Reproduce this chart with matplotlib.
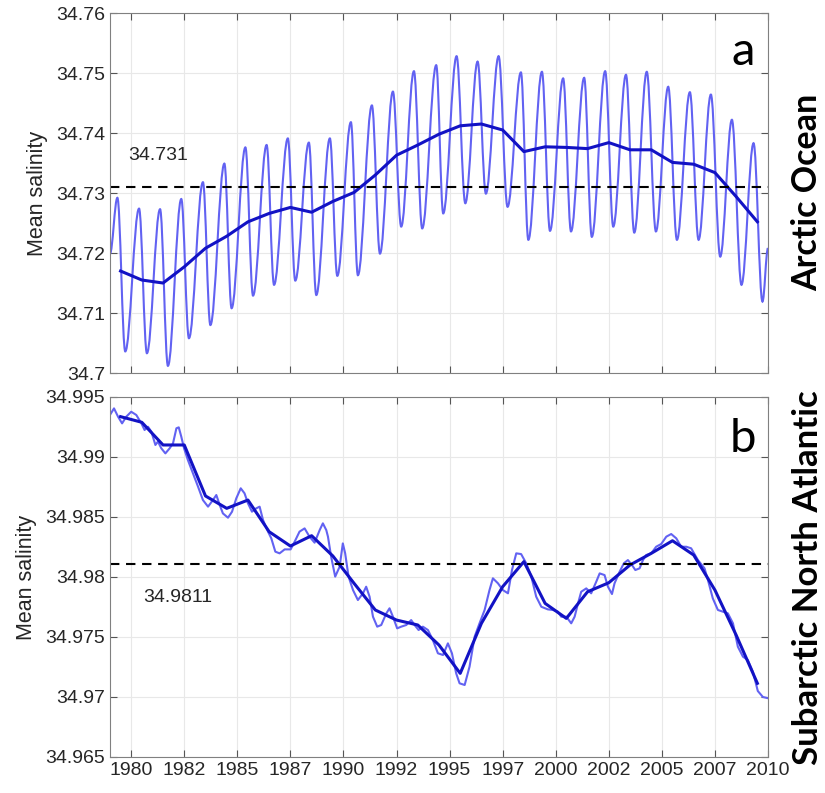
import matplotlib
matplotlib.use("Agg")
import matplotlib.pyplot as plt
import numpy as np
from matplotlib.path import Path
from matplotlib.patches import PathPatch
from matplotlib.ticker import FuncFormatter

plt.rcParams['font.family'] = ['Liberation Sans', 'DejaVu Sans']

# ---- panel a: Arctic Ocean, monthly series (seasonal peaks / troughs) ----
arc_month_year = [1979.00, 1979.35, 1979.72, 1980.37, 1980.74, 1981.36, 1981.73, 1982.36, 1982.72,
                  1983.38, 1983.73, 1984.39, 1984.73, 1985.38, 1985.74, 1986.38, 1986.73, 1987.38,
                  1987.73, 1988.37, 1988.72, 1989.36, 1989.71, 1990.35, 1990.68, 1991.34, 1991.72,
                  1992.33, 1992.72, 1993.32, 1993.71, 1994.37, 1994.70, 1995.33, 1995.74, 1996.32,
                  1996.71, 1997.31, 1997.73, 1998.36, 1998.71, 1999.35, 1999.73, 2000.35, 2000.72,
                  2001.34, 2001.70, 2002.33, 2002.71, 2003.31, 2003.70, 2004.29, 2004.72, 2005.30,
                  2005.71, 2006.32, 2006.73, 2007.31, 2007.75, 2008.30, 2008.75, 2009.32, 2009.74,
                  2010.00]
arc_month_sal = [34.7199, 34.7292, 34.7036, 34.7274, 34.7033, 34.7273, 34.7012, 34.7290, 34.7058,
                 34.7318, 34.7080, 34.7349, 34.7108, 34.7376, 34.7129, 34.7380, 34.7147, 34.7391,
                 34.7154, 34.7384, 34.7130, 34.7391, 34.7162, 34.7418, 34.7163, 34.7446, 34.7199,
                 34.7469, 34.7244, 34.7503, 34.7241, 34.7513, 34.7266, 34.7528, 34.7283, 34.7519,
                 34.7299, 34.7528, 34.7277, 34.7501, 34.7222, 34.7502, 34.7237, 34.7491, 34.7236,
                 34.7492, 34.7227, 34.7503, 34.7244, 34.7497, 34.7234, 34.7502, 34.7236, 34.7477,
                 34.7222, 34.7468, 34.7222, 34.7464, 34.7194, 34.7422, 34.7147, 34.7383, 34.7119,
                 34.7208]

# annual means (mid-year)
annual_year = np.arange(1979.5, 2010, 1.0)
arc_annual_sal = [34.7170, 34.7155, 34.7150, 34.7177, 34.7208, 34.7228, 34.7252, 34.7266, 34.7276,
                  34.7268, 34.7286, 34.7301, 34.7330, 34.7363, 34.7380, 34.7398, 34.7412, 34.7415,
                  34.7405, 34.7369, 34.7377, 34.7376, 34.7374, 34.7384, 34.7372, 34.7372, 34.7351,
                  34.7348, 34.7334, 34.7294, 34.7252]
arc_ref = 34.731

# ---- panel b: Subarctic North Atlantic ----
natl_month_year = [1979.00, 1979.19, 1979.38, 1979.57, 1979.77, 1980.00, 1980.24, 1980.48, 1980.63,
                   1980.79, 1980.95, 1981.14, 1981.26, 1981.42, 1981.61, 1981.81, 1981.97, 1982.13,
                   1982.24, 1982.36, 1982.49, 1982.67, 1982.91, 1983.15, 1983.38, 1983.62, 1983.85,
                   1984.01, 1984.17, 1984.32, 1984.56, 1984.75, 1984.95, 1985.16, 1985.34, 1985.50,
                   1985.69, 1985.89, 1986.05, 1986.21, 1986.41, 1986.60, 1986.79, 1986.99, 1987.23,
                   1987.51, 1987.70, 1987.93, 1988.17, 1988.40, 1988.64, 1988.88, 1989.03, 1989.19,
                   1989.27, 1989.42, 1989.61, 1989.82, 1989.97, 1990.08, 1990.24, 1990.45, 1990.68,
                   1990.92, 1991.07, 1991.23, 1991.39, 1991.59, 1991.78, 1992.02, 1992.17, 1992.33,
                   1992.53, 1992.72, 1992.96, 1993.19, 1993.35, 1993.54, 1993.74, 1993.98, 1994.21,
                   1994.45, 1994.69, 1994.92, 1995.11, 1995.31, 1995.47, 1995.71, 1995.94, 1996.18,
                   1996.41, 1996.65, 1996.88, 1997.04, 1997.28, 1997.51, 1997.75, 1997.94, 1998.14,
                   1998.37, 1998.61, 1998.85, 1999.08, 1999.32, 1999.63, 1999.87, 2000.10, 2000.26,
                   2000.50, 2000.73, 2000.89, 2001.05, 2001.20, 2001.44, 2001.67, 2001.91, 2002.07,
                   2002.30, 2002.46, 2002.65, 2002.77, 2003.01, 2003.21, 2003.40, 2003.59, 2003.75,
                   2003.95, 2004.11, 2004.26, 2004.50, 2004.73, 2004.97, 2005.21, 2005.44, 2005.68,
                   2005.91, 2006.15, 2006.38, 2006.70, 2007.01, 2007.17, 2007.40, 2007.64, 2007.88,
                   2008.11, 2008.35, 2008.58, 2008.82, 2009.05, 2009.29, 2009.52, 2009.76, 2010.00]
natl_month_sal = [34.99350, 34.99405, 34.99336, 34.99280, 34.99336, 34.99377, 34.99350, 34.99280, 34.99225,
                  34.99252, 34.99211, 34.99100, 34.99128, 34.99072, 34.99030, 34.99072, 34.99114, 34.99239,
                  34.99247, 34.99169, 34.99072, 34.98975, 34.98864, 34.98752, 34.98641, 34.98586, 34.98641,
                  34.98683, 34.98600, 34.98530, 34.98494, 34.98544, 34.98655, 34.98739, 34.98697, 34.98614,
                  34.98544, 34.98572, 34.98586, 34.98475, 34.98391, 34.98322, 34.98211, 34.98197, 34.98230,
                  34.98230, 34.98294, 34.98378, 34.98405, 34.98336, 34.98286, 34.98391, 34.98447, 34.98391,
                  34.98336, 34.98169, 34.98003, 34.98086, 34.98280, 34.98197, 34.98003, 34.97891, 34.97808,
                  34.97864, 34.97919, 34.97836, 34.97669, 34.97586, 34.97600, 34.97697, 34.97739, 34.97669,
                  34.97572, 34.97586, 34.97600, 34.97641, 34.97600, 34.97558, 34.97586, 34.97558, 34.97475,
                  34.97364, 34.97350, 34.97447, 34.97364, 34.97197, 34.97114, 34.97100, 34.97253, 34.97503,
                  34.97614, 34.97725, 34.97891, 34.97989, 34.97947, 34.97891, 34.97864, 34.98058, 34.98197,
                  34.98191, 34.98114, 34.98003, 34.97836, 34.97752, 34.97730, 34.97725, 34.97711, 34.97669,
                  34.97669, 34.97614, 34.97669, 34.97780, 34.97877, 34.97905, 34.97864, 34.97961, 34.98030,
                  34.98016, 34.97919, 34.97858, 34.97947, 34.98044, 34.98114, 34.98141, 34.98100, 34.98058,
                  34.98072, 34.98141, 34.98183, 34.98197, 34.98252, 34.98275, 34.98336, 34.98358, 34.98322,
                  34.98252, 34.98252, 34.98239, 34.98141, 34.98072, 34.97975, 34.97822, 34.97725, 34.97711,
                  34.97697, 34.97614, 34.97419, 34.97336, 34.97308, 34.97210, 34.97050, 34.97000, 34.96990]
natl_annual_sal = [34.99336, 34.99289, 34.99100, 34.99100, 34.98675, 34.98572, 34.98641, 34.98377, 34.98258,
                   34.98344, 34.98175, 34.97947, 34.97725, 34.97641, 34.97600, 34.97433, 34.97197, 34.97614,
                   34.97919, 34.98128, 34.97780, 34.97655, 34.97877, 34.97952, 34.98100, 34.98197, 34.98302,
                   34.98183, 34.97891, 34.97516, 34.97114]
natl_ref = 34.9811

year_ticks = [1980, 1982.5, 1985, 1987.5, 1990, 1992.5, 1995, 1997.5, 2000, 2002.5, 2005, 2007.5, 2010]
arc_yticks = [34.70, 34.71, 34.72, 34.73, 34.74, 34.75, 34.76]
natl_yticks = [34.965, 34.97, 34.975, 34.98, 34.985, 34.99, 34.995]

light = '#6262f2'
dark = '#1212c4'
txt = '#262626'

fig = plt.figure(figsize=(8.25, 7.93), dpi=100)
ax1 = fig.add_axes([0.1333, 0.5296, 0.7976, 0.454])
ax2 = fig.add_axes([0.1333, 0.0454, 0.7976, 0.454])


def smooth_path(xs, ys, k=0.364):
    # cubic curves between successive extrema, flat at each turning point
    verts = [(xs[0], ys[0])]
    codes = [Path.MOVETO]
    for x0, y0, x1, y1 in zip(xs[:-1], ys[:-1], xs[1:], ys[1:]):
        d = x1 - x0
        verts += [(x0 + k * d, y0), (x1 - k * d, y1), (x1, y1)]
        codes += [Path.CURVE4] * 3
    return Path(verts, codes)


def style(ax, yticks):
    ax.set_xlim(1979, 2010)
    ax.set_ylim(yticks[0], yticks[-1])
    ax.set_xticks(year_ticks)
    ax.set_yticks(yticks)
    ax.yaxis.set_major_formatter(FuncFormatter(lambda v, p: '%g' % round(v, 4)))
    ax.xaxis.set_major_formatter(FuncFormatter(lambda v, p: str(int(v))))
    ax.grid(True, color='#e8e8e8', lw=0.8)
    ax.set_axisbelow(True)
    ax.tick_params(direction='in', top=True, right=True, length=5, width=0.8,
                   colors='#555555', labelcolor=txt, labelsize=14)
    for s in ax.spines.values():
        s.set_color('#808080')
        s.set_linewidth(0.8)
    ax.set_ylabel('Mean salinity', fontsize=15.5, color=txt, labelpad=6)


# panel a
ax1.add_patch(PathPatch(smooth_path(arc_month_year, arc_month_sal), fill=False,
                        edgecolor=light, lw=1.5))
ax1.plot(annual_year, arc_annual_sal, color=dark, lw=2.2)
ax1.axhline(arc_ref, color='k', lw=1.5, ls=(0, (4.5, 3.2)))
ax1.text(1979.85, 34.7363, '34.731', fontsize=14, color=txt, va='center', ha='left')
ax1.text(0.962, 0.856, 'a', transform=ax1.transAxes, fontsize=34, family='Lato',
         ha='center', va='baseline')
style(ax1, arc_yticks)
ax1.tick_params(labelbottom=False)

# panel b
ax2.plot(natl_month_year, natl_month_sal, color=light, lw=1.5)
ax2.plot(annual_year, natl_annual_sal, color=dark, lw=2.2)
ax2.axhline(natl_ref, color='k', lw=1.5, ls=(0, (4.5, 3.2)))
ax2.text(1980.55, 34.97825, '34.9811', fontsize=14, color=txt, va='center', ha='left')
ax2.text(0.962, 0.847, 'b', transform=ax2.transAxes, fontsize=34, family='Lato',
         ha='center', va='baseline')
style(ax2, natl_yticks)

fig.text(0.979, 0.757, 'Arctic Ocean', rotation=90, fontsize=24.5, fontweight='bold',
         family='Lato', ha='center', va='center')
fig.text(0.979, 0.272, 'Subarctic North Atlantic', rotation=90, fontsize=25, fontweight='bold',
         family='Lato', ha='center', va='center')

fig.savefig('out.png', dpi=100)
